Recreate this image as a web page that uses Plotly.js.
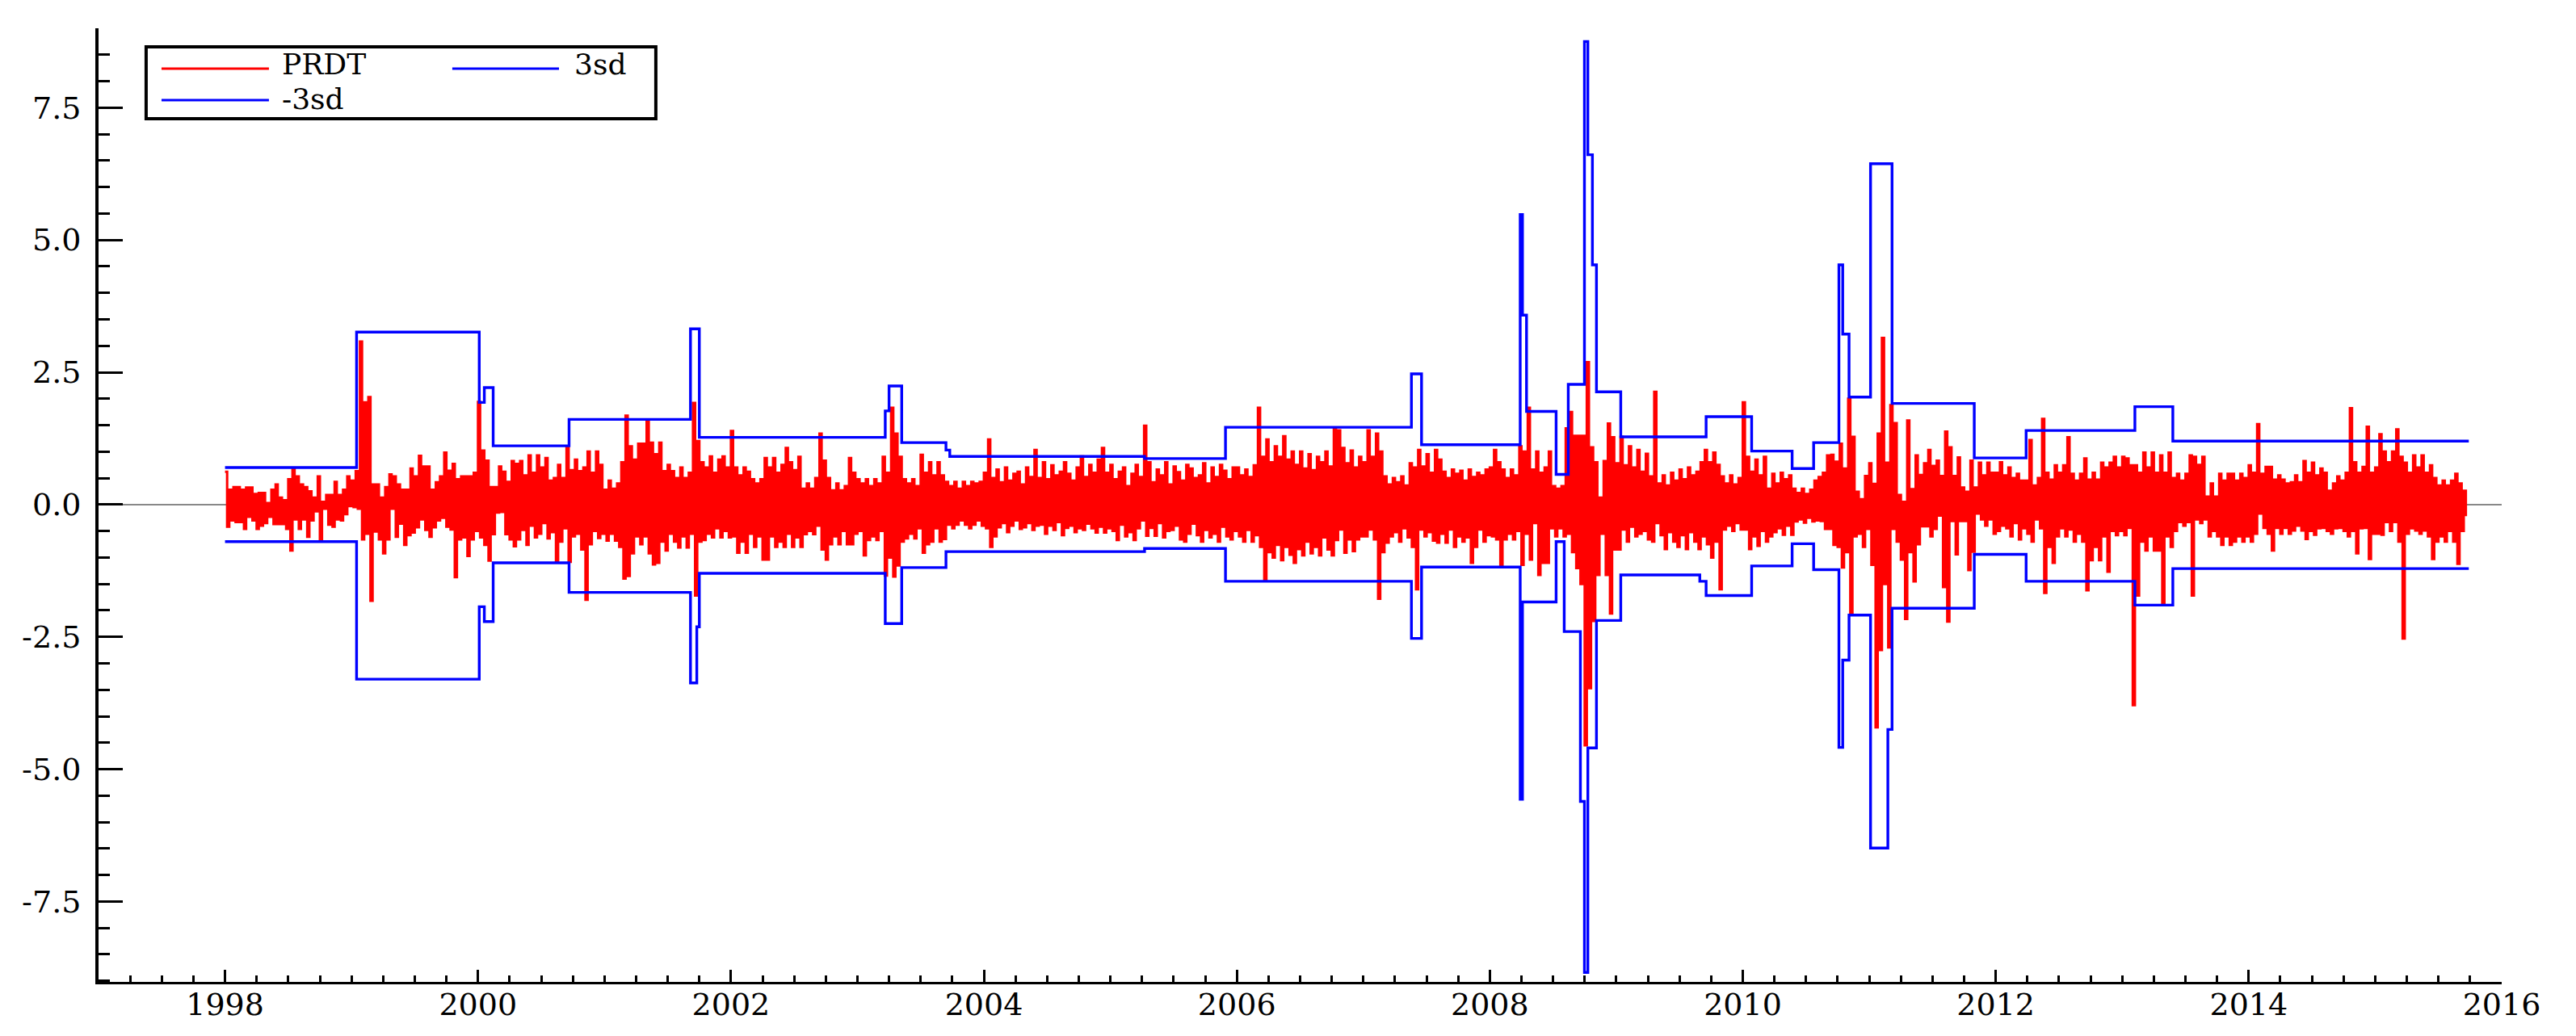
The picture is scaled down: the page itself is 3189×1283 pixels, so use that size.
<!DOCTYPE html>
<html>
<head>
<meta charset="utf-8">
<script src="https://cdn.plot.ly/plotly-3.0.1.min.js"></script>
<style>
  html, body { margin: 0; padding: 0; background: #ffffff; }
  #chart { width: 3189px; height: 1283px; }
</style>
</head>
<body>
<div id="chart"></div>
<script>
// ---------------- DATA ----------------
// PRDT, two readings (upper, lower) per bin of 1/30 year
var prdt1998 = [0.62,-0.42, 0.28,-0.30, 0.33,-0.33, 0.33,-0.33, 0.28,-0.46, 0.32,-0.23, 0.32,-0.30, 0.20,-0.46, 0.22,-0.40, 0.22,-0.35, 0.03,-0.23, 0.28,-0.37, 0.38,-0.37, 0.13,-0.37, 0.08,-0.46, 0.48,-0.87, 0.69,-0.28, 0.53,-0.46, 0.38,-0.28, 0.33,-0.61, 0.25,-0.30, 0.13,-0.13, 0.53,-0.66, 0.05,-0.08, 0.18,-0.38, 0.18,-0.42, 0.43,-0.28, 0.18,-0.30, 0.28,-0.18, 0.53,-0.03];
var prdt1999 = [0.45,-0.05, 0.63,-0.08, 3.08,-0.66, 1.93,-0.55, 2.03,-1.82, 0.38,-0.51, 0.38,-0.66, 0.13,-0.92, 0.33,-0.66, 0.57,-0.08, 0.53,-0.61, 0.38,-0.36, 0.28,-0.76, 0.28,-0.58, 0.68,-0.53, 0.53,-0.43, 0.92,-0.28, 0.72,-0.48, 0.72,-0.61, 0.28,-0.43, 0.42,-0.30, 0.53,-0.25, 0.98,-0.42, 0.64,-0.47, 0.77,-1.37, 0.48,-0.66, 0.53,-0.62, 0.53,-0.97, 0.53,-0.66, 0.60,-0.50];
var prdt2000 = [1.94,-0.62, 1.02,-0.76, 0.83,-1.06, 0.33,-0.56, 0.33,-0.15, 0.72,-0.14, 0.62,-0.56, 0.43,-0.66, 0.82,-0.79, 0.77,-0.66, 0.82,-0.48, 0.55,-0.76, 0.93,-0.40, 0.60,-0.62, 0.93,-0.55, 0.70,-0.35, 0.88,-0.64, 0.45,-0.52, 0.50,-1.08, 0.75,-0.70, 0.50,-0.45, 1.09,-1.08, 0.65,-0.60, 0.85,-0.55, 0.63,-0.85, 0.70,-1.80, 1.00,-0.75, 0.60,-0.50, 1.00,-0.63, 0.75,-0.55];
var prdt2001 = [0.28,-0.68, 0.45,-0.55, 0.30,-0.68, 0.40,-0.80, 0.80,-1.40, 1.68,-1.35, 1.10,-0.92, 0.85,-0.60, 1.15,-0.75, 1.15,-0.60, 1.60,-0.92, 1.17,-1.13, 0.95,-1.10, 1.17,-0.70, 0.63,-0.87, 0.75,-0.55, 0.63,-0.70, 0.50,-0.81, 0.70,-0.60, 0.50,-0.81, 0.60,-0.55, 1.92,-1.72, 1.20,-0.70, 0.80,-0.67, 0.70,-0.55, 0.91,-0.62, 0.60,-0.45, 0.85,-0.62, 0.91,-0.50, 0.70,-0.62];
var prdt2002 = [1.39,-0.60, 0.70,-0.91, 0.55,-0.70, 0.70,-0.91, 0.62,-0.55, 0.48,-0.80, 0.40,-0.60, 0.48,-1.04, 0.88,-1.04, 0.70,-0.60, 0.88,-0.80, 0.60,-0.70, 0.75,-0.80, 1.07,-0.55, 0.80,-0.80, 0.65,-0.62, 0.90,-0.80, 0.30,-0.56, 0.40,-0.50, 0.30,-0.56, 0.50,-0.40, 1.34,-0.85, 0.83,-1.04, 0.50,-0.75, 0.27,-0.60, 0.40,-0.75, 0.27,-0.50, 0.35,-0.75, 0.88,-0.75, 0.60,-0.55];
var prdt2003 = [0.48,-0.50, 0.40,-0.96, 0.48,-0.67, 0.35,-0.60, 0.48,-0.67, 0.40,-0.50, 0.90,-1.34, 0.60,-1.00, 1.83,-1.36, 1.34,-1.15, 0.90,-0.70, 0.48,-0.64, 0.40,-0.55, 0.48,-0.64, 0.35,-0.45, 0.94,-0.91, 0.60,-0.75, 0.80,-0.70, 0.55,-0.45, 0.80,-0.70, 0.55,-0.65, 0.43,-0.38, 0.35,-0.45, 0.43,-0.38, 0.30,-0.30, 0.43,-0.38, 0.35,-0.45, 0.43,-0.38, 0.40,-0.30, 0.43,-0.40];
var prdt2004 = [0.60,-0.45, 1.23,-0.80, 0.50,-0.60, 0.66,-0.43, 0.42,-0.35, 0.70,-0.52, 0.45,-0.40, 0.58,-0.30, 0.62,-0.46, 0.38,-0.43, 0.70,-0.35, 0.52,-0.48, 1.03,-0.40, 0.50,-0.38, 0.80,-0.55, 0.48,-0.40, 0.74,-0.48, 0.55,-0.33, 0.62,-0.58, 0.80,-0.44, 0.58,-0.40, 0.45,-0.52, 0.70,-0.45, 0.91,-0.48, 0.52,-0.36, 0.75,-0.45, 0.60,-0.53, 0.85,-0.42, 1.07,-0.53, 0.60,-0.45];
var prdt2005 = [0.75,-0.50, 0.48,-0.67, 0.62,-0.38, 0.70,-0.60, 0.35,-0.52, 0.58,-0.67, 0.75,-0.45, 0.52,-0.30, 1.49,-0.59, 0.80,-0.44, 0.42,-0.59, 0.66,-0.35, 0.55,-0.62, 0.80,-0.50, 0.38,-0.48, 0.72,-0.40, 0.61,-0.66, 0.45,-0.70, 0.75,-0.55, 0.68,-0.36, 0.50,-0.58, 0.55,-0.70, 0.78,-0.48, 0.40,-0.62, 0.70,-0.55, 0.52,-0.70, 0.75,-0.42, 0.64,-0.60, 0.48,-0.66, 0.70,-0.50];
var prdt2006 = [0.70,-0.60, 0.55,-0.70, 0.66,-0.48, 0.52,-0.70, 0.74,-0.58, 1.83,-0.80, 0.90,-1.42, 1.23,-0.90, 0.80,-1.00, 1.10,-0.76, 0.90,-1.05, 1.29,-0.80, 0.85,-0.95, 1.00,-1.10, 0.75,-0.84, 1.00,-0.96, 0.68,-0.70, 0.95,-0.92, 0.65,-0.80, 0.90,-0.96, 0.80,-0.62, 1.00,-0.85, 0.72,-0.96, 1.45,-0.67, 1.40,-0.47, 1.07,-0.91, 0.78,-0.66, 1.02,-0.88, 0.70,-0.66, 0.90,-0.60];
var prdt2007 = [0.80,-0.60, 1.40,-0.47, 0.90,-0.66, 1.34,-1.78, 1.00,-0.90, 0.53,-0.72, 0.38,-0.60, 0.50,-0.52, 0.42,-0.70, 0.53,-0.45, 0.36,-0.62, 0.78,-0.80, 0.70,-1.60, 1.03,-0.47, 0.72,-0.60, 0.95,-0.52, 0.60,-0.68, 1.03,-0.72, 0.85,-0.55, 0.62,-0.72, 0.50,-0.47, 0.66,-0.80, 0.58,-0.60, 0.64,-0.70, 0.45,-0.62, 0.66,-1.10, 0.52,-0.80, 0.60,-0.47, 0.55,-0.70, 0.66,-0.58];
var prdt2008 = [0.70,-0.60, 1.03,-0.66, 0.80,-1.16, 0.66,-0.66, 0.50,-0.55, 0.66,-0.66, 0.55,-0.50, 1.10,-1.14, 1.00,-0.55, 1.83,-1.04, 0.66,-0.35, 1.00,-1.33, 0.60,-1.10, 0.70,-1.10, 1.00,-0.45, 0.35,-0.60, 0.30,-0.45, 0.35,-0.60, 1.44,-0.55, 1.75,-0.90, 1.30,-1.20, 1.30,-1.50, 1.30,-4.55, 2.69,-3.47, 1.08,-2.20, 0.80,-1.33, 0.13,-0.55, 0.82,-1.33, 1.53,-2.06, 1.27,-0.85];
var prdt2009 = [0.78,-0.85, 1.28,-0.47, 0.74,-0.70, 1.10,-0.42, 0.70,-0.60, 1.03,-0.55, 0.62,-0.50, 0.96,-0.66, 0.53,-0.70, 2.13,-0.35, 0.40,-0.58, 0.55,-0.84, 0.36,-0.52, 0.60,-0.70, 0.45,-0.80, 0.66,-0.58, 0.48,-0.84, 0.70,-0.52, 0.55,-0.70, 0.62,-0.84, 0.80,-0.60, 1.03,-0.75, 0.80,-1.00, 0.98,-0.70, 0.75,-1.60, 0.53,-0.47, 0.40,-0.40, 0.55,-0.50, 0.38,-0.35, 0.50,-0.47];
var prdt2010 = [1.93,-0.47, 0.90,-0.84, 0.62,-0.60, 0.85,-0.78, 0.55,-0.50, 0.90,-0.70, 0.30,-0.60, 0.58,-0.52, 0.40,-0.45, 0.60,-0.57, 0.48,-0.40, 0.55,-0.57, 0.30,-0.32, 0.22,-0.28, 0.30,-0.34, 0.20,-0.25, 0.28,-0.32, 0.45,-0.30, 0.52,-0.31, 0.60,-0.46, 0.93,-0.46, 0.94,-0.76, 0.81,-0.80, 1.15,-1.19, 0.68,-0.90, 2.00,-2.07, 1.28,-0.60, 0.24,-0.55, 0.10,-0.80, 0.54,-0.46];
var prdt2011 = [0.78,-1.14, 0.39,-4.21, 1.34,-2.75, 3.15,-1.50, 0.79,-2.70, 1.88,-0.46, 1.54,-0.70, 0.18,-1.04, 0.05,-2.16, 1.59,-0.90, 0.29,-1.45, 0.93,-0.75, 0.56,-0.41, 0.78,-0.41, 1.03,-0.60, 0.73,-0.46, 0.83,-0.21, 0.54,-1.56, 1.38,-2.21, 1.08,-0.31, 0.54,-0.94, 0.89,-0.31, 0.32,-0.31, 0.24,-1.24, 0.83,-0.89, 0.32,-0.17, 0.79,-0.28, 0.55,-0.40, 0.79,-0.28, 0.60,-0.55];
var prdt2012 = [0.60,-0.50, 0.80,-0.40, 0.55,-0.45, 0.70,-0.60, 0.50,-0.35, 0.58,-0.66, 0.45,-0.45, 0.45,-0.55, 1.22,-0.70, 0.36,-0.28, 0.50,-0.45, 1.62,-1.67, 0.60,-0.80, 0.47,-1.10, 0.74,-0.60, 0.60,-0.45, 0.74,-0.60, 1.27,-0.47, 0.58,-0.70, 0.45,-0.55, 0.58,-0.70, 0.87,-1.62, 0.47,-1.05, 0.60,-0.80, 0.47,-1.05, 0.79,-0.60, 0.70,-1.27, 0.79,-0.50, 0.90,-0.58, 0.70,-0.50];
var prdt2013 = [0.90,-0.58, 0.87,-0.44, 0.74,-3.79, 0.74,-1.72, 0.60,-0.70, 0.98,-0.87, 0.70,-0.60, 0.98,-0.87, 0.60,-0.87, 0.93,-1.89, 0.60,-0.60, 0.98,-0.80, 0.50,-0.50, 0.58,-0.33, 0.45,-0.40, 0.58,-0.33, 0.93,-1.72, 0.90,-0.28, 0.75,-0.35, 0.90,-0.28, 0.15,-0.60, 0.40,-0.50, 0.15,-0.60, 0.58,-0.76, 0.45,-0.60, 0.58,-0.76, 0.58,-0.70, 0.45,-0.60, 0.58,-0.70, 0.50,-0.60];
var prdt2014 = [0.74,-0.70, 0.60,-0.55, 1.52,-0.17, 0.58,-0.44, 0.71,-0.55, 0.71,-0.87, 0.47,-0.44, 0.55,-0.55, 0.47,-0.44, 0.40,-0.55, 0.42,-0.49, 0.55,-0.40, 0.42,-0.49, 0.82,-0.65, 0.60,-0.50, 0.79,-0.57, 0.55,-0.45, 0.68,-0.44, 0.60,-0.50, 0.26,-0.55, 0.40,-0.45, 0.53,-0.44, 0.45,-0.50, 0.60,-0.60, 1.82,-0.50, 0.80,-0.92, 0.60,-0.45, 0.71,-0.44, 1.47,-1.03, 0.60,-0.55];
var prdt2015 = [0.70,-0.55, 1.33,-0.57, 1.00,-0.33, 0.80,-0.50, 1.00,-0.33, 1.42,-0.70, 0.90,-2.53, 0.79,-0.55, 0.60,-0.45, 0.93,-0.49, 0.70,-0.55, 0.93,-0.49, 0.60,-0.60, 0.74,-1.03, 0.50,-0.70, 0.36,-0.60, 0.45,-0.70, 0.36,-0.50, 0.45,-0.70, 0.58,-1.12, 0.40,-0.50, 0.26,-0.22];
var prdtStartYear = 1998;
var prdtReadingsPerYear = 60;

// +/- 3 standard-deviation bands: start of each segment (decimal year) and level
var bandYears = [1998.00, 1999.04, 2000.01, 2000.05, 2000.12, 2000.72, 2001.68, 2001.73, 2001.75, 2003.22,
                 2003.25, 2003.35, 2003.70, 2003.73, 2005.27, 2005.91, 2007.38, 2007.46, 2008.24, 2008.258,
                 2008.29, 2008.524, 2008.588, 2008.62, 2008.716, 2008.748, 2008.775, 2008.811, 2008.843, 2009.035,
                 2009.66, 2009.71, 2010.07, 2010.39, 2010.56, 2010.76, 2010.79, 2010.84, 2011.01, 2011.147,
                 2011.18, 2011.83, 2012.24, 2013.10, 2013.40, 2015.74];
var upper3sd = [0.70, 3.26, 1.93, 2.21, 1.11, 1.61, 3.32, 3.32, 1.27, 1.77,
                2.24, 1.17, 1.03, 0.91, 0.87, 1.46, 2.47, 1.13, 5.48, 3.58,
                1.76, 0.57, 0.57, 2.27, 2.27, 8.75, 6.61, 4.53, 2.13, 1.28,
                1.28, 1.66, 1.01, 0.68, 1.17, 4.53, 3.22, 2.03, 6.44, 6.44,
                1.91, 0.88, 1.40, 1.85, 1.20, 1.20];
var lower3sd = [-0.70, -3.30, -1.93, -2.21, -1.10, -1.66, -3.37, -2.31, -1.30, -2.25,
                -2.25, -1.19, -0.89, -0.89, -0.83, -1.45, -2.53, -1.18, -5.57, -1.84,
                -1.84, -0.70, -2.40, -2.40, -5.61, -8.84, -4.60, -4.60, -2.19, -1.33,
                -1.45, -1.72, -1.16, -0.74, -1.23, -4.59, -2.94, -2.09, -6.49, -4.25,
                -1.96, -0.94, -1.45, -1.90, -1.21, -1.21];

var seriesNames = ['PRDT', '3sd', '-3sd'];
var yTickVals = [-7.5, -5, -2.5, 0, 2.5, 5, 7.5];
var yTickText = ['-7.5', '-5.0', '-2.5', '0.0', '2.5', '5.0', '7.5'];
var xTickVals = [1998, 2000, 2002, 2004, 2006, 2008, 2010, 2012, 2014, 2016];
var xTickText = ['1998', '2000', '2002', '2004', '2006', '2008', '2010', '2012', '2014', '2016'];

// ---------------- BUILD ----------------
var prdt = [].concat(prdt1998, prdt1999, prdt2000, prdt2001, prdt2002, prdt2003, prdt2004, prdt2005,
                     prdt2006, prdt2007, prdt2008, prdt2009, prdt2010, prdt2011, prdt2012, prdt2013,
                     prdt2014, prdt2015);
var prdtX = prdt.map(function (v, i) { return prdtStartYear + i / prdtReadingsPerYear; });

var RED = '#ff0000', BLUE = '#0000ff';
var FONT = 'DejaVu Serif, Liberation Serif, serif';

var traces = [
  { type: 'scatter', mode: 'lines', name: seriesNames[0], x: prdtX, y: prdt,
    line: { color: RED, width: 3, shape: 'hv' }, hoverinfo: 'skip' },
  { type: 'scatter', mode: 'lines', name: seriesNames[1], x: bandYears, y: upper3sd,
    line: { color: BLUE, width: 3.4, shape: 'hv' }, hoverinfo: 'skip' },
  { type: 'scatter', mode: 'lines', name: seriesNames[2], x: bandYears, y: lower3sd,
    line: { color: BLUE, width: 3.4, shape: 'hv' }, hoverinfo: 'skip' }
];

// manual legend box (paper coordinates)
var legShapes = [
  { type: 'rect', xref: 'paper', yref: 'paper', x0: 0.0198, x1: 0.2319, y0: 0.9052, y1: 0.9805,
    line: { color: '#000', width: 4 }, fillcolor: '#ffffff', layer: 'above' },
  { type: 'line', xref: 'paper', yref: 'paper', x0: 0.0262, x1: 0.0709, y0: 0.9577, y1: 0.9577,
    line: { color: RED, width: 3 }, layer: 'above' },
  { type: 'line', xref: 'paper', yref: 'paper', x0: 0.1472, x1: 0.1916, y0: 0.9577, y1: 0.9577,
    line: { color: BLUE, width: 3 }, layer: 'above' },
  { type: 'line', xref: 'paper', yref: 'paper', x0: 0.0262, x1: 0.0709, y0: 0.9246, y1: 0.9246,
    line: { color: BLUE, width: 3 }, layer: 'above' }
];
var legFont = { family: FONT, size: 36, color: '#000' };
var legAnn = [
  { xref: 'paper', yref: 'paper', x: 0.0756, y: 0.9619, xanchor: 'left', yanchor: 'middle',
    text: seriesNames[0], showarrow: false, font: legFont },
  { xref: 'paper', yref: 'paper', x: 0.1973, y: 0.9619, xanchor: 'left', yanchor: 'middle',
    text: seriesNames[1], showarrow: false, font: legFont },
  { xref: 'paper', yref: 'paper', x: 0.0756, y: 0.9255, xanchor: 'left', yanchor: 'middle',
    text: seriesNames[2], showarrow: false, font: legFont }
];

var layout = {
  width: 3189, height: 1283,
  margin: { l: 122, r: 92, t: 35, b: 67, pad: 0 },
  paper_bgcolor: '#ffffff', plot_bgcolor: '#ffffff',
  showlegend: false,
  font: { family: FONT, size: 38, color: '#000' },
  xaxis: {
    range: [1997, 2016], showgrid: false, zeroline: false,
    showline: true, linecolor: '#000', linewidth: 3,
    ticks: 'inside', ticklen: 15, tickwidth: 3, tickcolor: '#000',
    tickmode: 'array', tickvals: xTickVals, ticktext: xTickText,
    ticklabelstandoff: -8,
    tickfont: { family: FONT, size: 38, color: '#000' },
    minor: { ticks: 'inside', dtick: 0.25, tick0: 1997, ticklen: 8, tickwidth: 3, tickcolor: '#000', showgrid: false }
  },
  yaxis: {
    range: [-9.02, 9.0], showgrid: false,
    zeroline: true, zerolinecolor: '#888888', zerolinewidth: 2.5,
    showline: true, linecolor: '#000', linewidth: 4,
    ticks: 'inside', ticklen: 30, tickwidth: 3, tickcolor: '#000',
    tickmode: 'array', tickvals: yTickVals, ticktext: yTickText,
    ticklabelstandoff: 10,
    tickfont: { family: FONT, size: 38, color: '#000' },
    minor: { ticks: 'inside', dtick: 0.5, tick0: 0, ticklen: 14, tickwidth: 3, tickcolor: '#000', showgrid: false }
  },
  shapes: legShapes,
  annotations: legAnn
};

Plotly.newPlot('chart', traces, layout, { staticPlot: true, displayModeBar: false });
</script>
</body>
</html>
